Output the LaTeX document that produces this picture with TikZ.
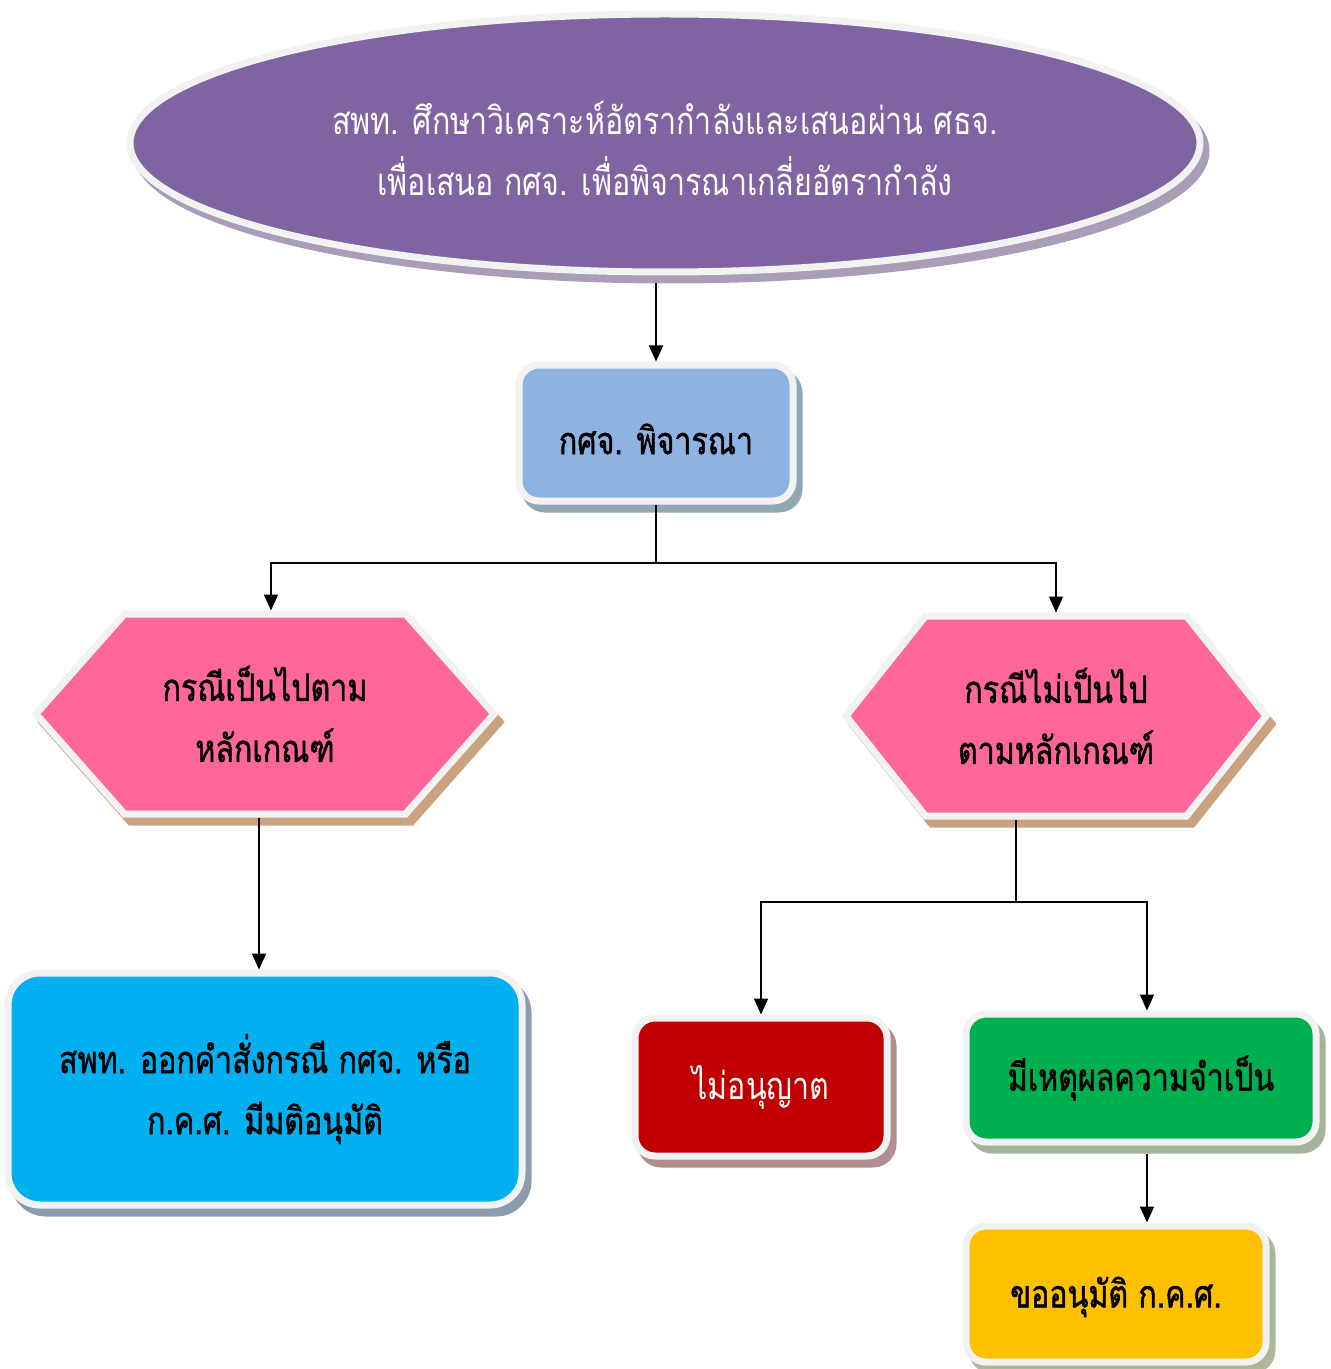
\documentclass[tikz,border=0pt]{standalone}
\usepackage{fontspec}
\newfontfamily\thai[Script=Thai,FakeStretch=0.8,FakeBold=1.2]{Loma}
\newfontfamily\thainarrow[Script=Thai,FakeStretch=0.8]{Loma}
\usetikzlibrary{arrows.meta, shapes.geometric, shapes.symbols, shadows}
\newcommand{\sink}[2][2.5pt]{\raisebox{-#1}[\height][\depth]{#2}}
\definecolor{rimgray}{HTML}{F2F2F2}
\definecolor{plum}{HTML}{8064A2}
\definecolor{plumshade}{HTML}{A99DB7}
\definecolor{sky}{HTML}{8DB3E2}
\definecolor{skyshade}{HTML}{8FA8B4}
\definecolor{rose}{HTML}{FF6699}
\definecolor{roseshade}{HTML}{C9A282}
\definecolor{cyanbox}{HTML}{00B0F0}
\definecolor{cyanshade}{HTML}{8C9CAC}
\definecolor{darkred}{HTML}{C00000}
\definecolor{redshade}{HTML}{B38E8E}
\definecolor{leaf}{HTML}{00B050}
\definecolor{leafshade}{HTML}{A5B39A}
\definecolor{amber}{HTML}{FFC000}
\definecolor{ambershade}{HTML}{AAB898}
\tikzset{
	arr/.style={-{Triangle[length=8pt,width=7pt]}, line width=0.9pt},
	wire/.style={line width=0.9pt},
	shade/.style={drop shadow={shadow xshift=3pt, shadow yshift=-4pt,
		fill=#1, draw=#1, line width=3.5pt, opacity=1}},
	blob/.append style={
		draw=rimgray,
		line width=3.5pt,
		align=center,
		inner sep=0pt,
		font={\thai\fontsize{19}{30.5}\selectfont}
	},
	rbox/.style={blob, rounded corners=10pt},
	hexa/.style={blob, shape=signal, signal to=east and west},
}

\begin{document}
\begin{tikzpicture}[x=0.5pt, y=-0.5pt]
	\useasboundingbox (0,0) rectangle (1330,1369);

	\node(ell)[blob, ellipse, fill=plum, shade=plumshade, text=white,
		minimum width=535pt, minimum height=129pt,
		font={\thainarrow\fontsize{19}{30.5}\selectfont}] at (665,143)
		{\sink{สพท. ศึกษาวิเคราะห์อัตรากำลังและเสนอผ่าน ศธจ.}\\\sink{เพื่อเสนอ กศจ. เพื่อพิจารณาเกลี่ยอัตรากำลัง}};
	\node(box)[rbox, fill=sky, shade=skyshade,
		minimum width=137pt, minimum height=68pt] at (656,433) {\sink[3pt]{กศจ. พิจารณา}};

	\node(hexL)[hexa, fill=rose, shade=roseshade, signal pointer angle=97,
		minimum width=229pt, minimum height=100pt] at (265,714)
		{กรณีเป็นไปตาม\\หลักเกณฑ์};
	\node(hexR)[hexa, fill=rose, shade=roseshade, signal pointer angle=103,
		minimum width=210pt, minimum height=100pt] at (1056,716)
		{กรณีไม่เป็นไป\\ตามหลักเกณฑ์};

	\node(order)[rbox, rounded corners=16pt, fill=cyanbox, shade=cyanshade,
		minimum width=257pt, minimum height=116pt] at (265,1089)
		{สพท. ออกคำสั่งกรณี กศจ. หรือ\\ก.ค.ศ. มีมติอนุมัติ};
	\node(deny)[rbox, fill=darkred, shade=redshade, text=white,
		minimum width=126pt, minimum height=69pt,
		font={\thainarrow\fontsize{19}{30.5}\selectfont}] at (761,1087) {ไม่อนุญาต};
	\node(need)[rbox, fill=leaf, shade=leafshade,
		minimum width=175pt, minimum height=64pt] at (1141,1078) {มีเหตุผลความจำเป็น};
	\node(ask)[rbox, fill=amber, shade=ambershade,
		minimum width=150pt, minimum height=68pt] at (1116,1294) {\sink[1.5pt]{ขออนุมัติ ก.ค.ศ.}};

	\coordinate(fork1) at (656,563);
	\coordinate(fork2) at (1016,902);
	\coordinate(gcol) at (1147,1000);

	\draw[arr] ([yshift=-4pt]ell.south -| box.north) -- (box.north);
	\draw[wire] (box.south) -- (fork1);
	\draw[arr] (fork1) -| ([xshift=3pt]hexL.north);
	\draw[arr] (fork1) -| (hexR.north);
	\draw[arr] ([xshift=-3pt]hexL.south) -- ([xshift=-3pt]order.north);
	\draw[wire] (hexR.south -| fork2) -- (fork2);
	\draw[arr] (fork2) -| (deny.north);
	\draw[arr] (fork2) -| (need.north -| gcol);
	\draw[arr] ([yshift=-4pt]need.south -| gcol) -- (ask.north -| gcol);
\end{tikzpicture}
\end{document}
